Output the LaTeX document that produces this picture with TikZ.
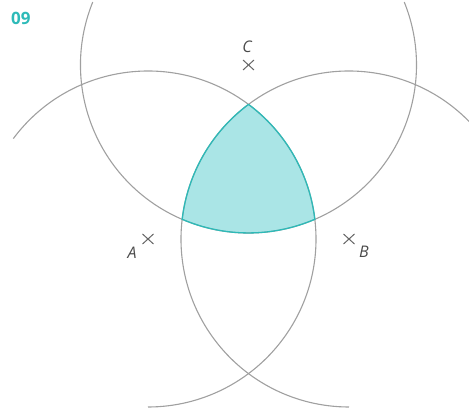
\documentclass[tikz,border=0pt]{standalone}
\usepackage{fontspec}
\setmainfont{Open Sans}
\definecolor{arcgray}{HTML}{A0A0A0}
\definecolor{tealline}{HTML}{2DBAB8}
\definecolor{tealfill}{HTML}{AAE5E6}
\definecolor{labelgray}{HTML}{4A4A4A}
\tikzset{
  construct/.style={draw=arcgray, line width=1.1pt},
  crossmark/.style={draw=labelgray!85, line width=1pt},
  ptlabel/.style={text=labelgray, font=\fontsize{16}{18}\selectfont\itshape, inner sep=0pt},
  numlabel/.style={text=tealline, font=\fontsize{17}{19}\selectfont\bfseries, inner sep=0pt, anchor=west}
}
\begin{document}
\begin{tikzpicture}[x=1pt,y=1pt]
\useasboundingbox (0,0) rectangle (469,410);
\clip (0,0) rectangle (469,410);
\coordinate (A) at (148,171);
\coordinate (B) at (349,171);
\coordinate (C) at (248.5,345);
% shaded Reuleaux region
\fill[tealfill]
  (B) ++(126.74:168pt) arc[start angle=126.74, end angle=173.26, radius=168pt]
  arc[start angle=246.74, end angle=293.26, radius=168pt]
  arc[start angle=6.74, end angle=53.26, radius=168pt] -- cycle;
% construction arcs
\draw[construct] (A) ++(143.3:168pt) arc[start angle=143.3, end angle=-90, radius=168pt];
\draw[construct] (B) ++(36.7:168pt) arc[start angle=36.7, end angle=270, radius=168pt];
\draw[construct] (C) ++(158:168pt) arc[start angle=158, end angle=382, radius=168pt];
% teal border on top
\draw[draw=tealline, line width=1.3pt]
  (B) ++(126.74:168pt) arc[start angle=126.74, end angle=173.26, radius=168pt]
  arc[start angle=246.74, end angle=293.26, radius=168pt]
  arc[start angle=6.74, end angle=53.26, radius=168pt];
% crosses
\foreach \p in {A,B,C} {
  \draw[crossmark] (\p) ++(-5.5,-5) -- ++(11,10);
  \draw[crossmark] (\p) ++(-5.5,5) -- ++(11,-10);
}
% labels
\node[ptlabel] (lA) at (132,157) {A};
\node[ptlabel] (lB) at (364,158) {B};
\node[ptlabel] (lC) at (247,363) {C};
\node[numlabel] (num) at (11,392) {09};
\end{tikzpicture}
\end{document}
